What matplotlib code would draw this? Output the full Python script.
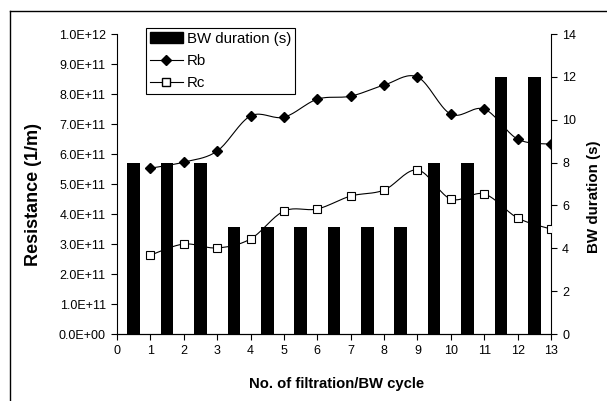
import numpy as np
import matplotlib
matplotlib.use("Agg")
import matplotlib.pyplot as plt
from matplotlib.lines import Line2D

plt.rcParams['font.family'] = ['Liberation Sans', 'DejaVu Sans']

cycles = [1, 2, 3, 4, 5, 6, 7, 8, 9, 10, 11, 12, 13]
rb = [5.53e11, 5.73e11, 6.1e11, 7.27e11, 7.23e11, 7.83e11, 7.93e11, 8.3e11, 8.57e11, 7.33e11, 7.5e11, 6.5e11, 6.33e11]
rc = [2.63e11, 3.0e11, 2.87e11, 3.17e11, 4.1e11, 4.17e11, 4.6e11, 4.8e11, 5.47e11, 4.5e11, 4.67e11, 3.87e11, 3.5e11]
bar_pos = [0.5, 1.5, 2.5, 3.5, 4.5, 5.5, 6.5, 7.5, 8.5, 9.5, 10.5, 11.5, 12.5]
bw_dur = [8, 8, 8, 5, 5, 5, 5, 5, 5, 8, 8, 12, 12]
y_ticks = [0, 1e11, 2e11, 3e11, 4e11, 5e11, 6e11, 7e11, 8e11, 9e11, 1e12]
y_labels = ['0.0E+00', '1.0E+11', '2.0E+11', '3.0E+11', '4.0E+11', '5.0E+11',
            '6.0E+11', '7.0E+11', '8.0E+11', '9.0E+11', '1.0E+12']


def smooth(x, y, n=20):
    x = np.asarray(x, float)
    y = np.asarray(y, float)
    px = np.concatenate([[x[0]], x, [x[-1]]])
    py = np.concatenate([[y[0]], y, [y[-1]]])
    xs, ys = [], []
    t = np.linspace(0, 1, n)
    for i in range(1, len(px) - 2):
        p0, p1, p2, p3 = (np.array([px[j], py[j]]) for j in range(i - 1, i + 3))
        c1 = p1 + (p2 - p0) / 6.0
        c2 = p2 - (p3 - p1) / 6.0
        for tt in t:
            pt = ((1 - tt) ** 3) * p1 + 3 * ((1 - tt) ** 2) * tt * c1 + 3 * (1 - tt) * tt ** 2 * c2 + tt ** 3 * p2
            xs.append(pt[0]); ys.append(pt[1])
    return xs, ys


fig = plt.figure(figsize=(6.07, 4.01), dpi=100)
ax = fig.add_axes([0.1928, 0.167, 0.7149, 0.748])
ax2 = ax.twinx()

ax2.bar(bar_pos, bw_dur, width=0.38, color='black', zorder=1)
ax2.set_ylim(0, 14)
ax2.set_yticks(range(0, 15, 2))

ax.set_zorder(ax2.get_zorder() + 1)
ax.patch.set_visible(False)

sx, sy = smooth(cycles, rb)
ax.plot(sx, sy, color='black', lw=0.8)
ax.plot(cycles, rb, ls='none', marker='D', ms=5, color='black')
sx, sy = smooth(cycles, rc)
ax.plot(sx, sy, color='black', lw=0.8)
ax.plot(cycles, rc, ls='none', marker='s', ms=5.5, mfc='white', mec='black', mew=0.8)

ax.set_xlim(0, 13)
ax.set_ylim(0, 1e12)
ax.set_xticks(range(0, 14))
ax.set_yticks(y_ticks)
ax.set_yticklabels(y_labels)

for a in (ax, ax2):
    a.spines['top'].set_visible(False)
    a.tick_params(labelsize=9, length=4, width=0.8, direction='out', pad=4)
ax2.spines['left'].set_visible(False)
ax.spines['right'].set_visible(False)

fig.text(337 / 607, 1 - 384 / 401, 'No. of filtration/BW cycle', fontsize=10.7,
         fontweight='bold', ha='center', va='center')
fig.text(33.8 / 607, 1 - 194.5 / 401, 'Resistance (1/m)', fontsize=13,
         fontweight='bold', ha='center', va='center', rotation=90)
fig.text(593.7 / 607, 1 - 196.5 / 401, 'BW duration (s)', fontsize=10.9,
         fontweight='bold', ha='center', va='center', rotation=90)

handles = [
    plt.Rectangle((0, 0), 1, 1, color='black'),
    Line2D([], [], color='black', lw=0.8, marker='D', ms=5),
    Line2D([], [], color='black', lw=0.8, marker='s', ms=5.5, mfc='white', mec='black'),
]
leg = fig.legend(handles, ['BW duration (s)', 'Rb', 'Rc'], loc='upper left',
                 bbox_to_anchor=(146 / 607, 1 - 28 / 401), fontsize=10.8,
                 frameon=True, fancybox=False, edgecolor='black', framealpha=1,
                 borderpad=0.25, labelspacing=0.55, handlelength=2.2, handletextpad=0.3,
                 borderaxespad=0)
leg.get_frame().set_linewidth(0.8)

fig.add_artist(Line2D([10 / 607, 10 / 607], [0, 1 - 11 / 401], color='black', lw=1, transform=fig.transFigure))
fig.add_artist(Line2D([10 / 607, 1], [1 - 11 / 401, 1 - 11 / 401], color='black', lw=1, transform=fig.transFigure))

fig.savefig('out.png', dpi=100)
